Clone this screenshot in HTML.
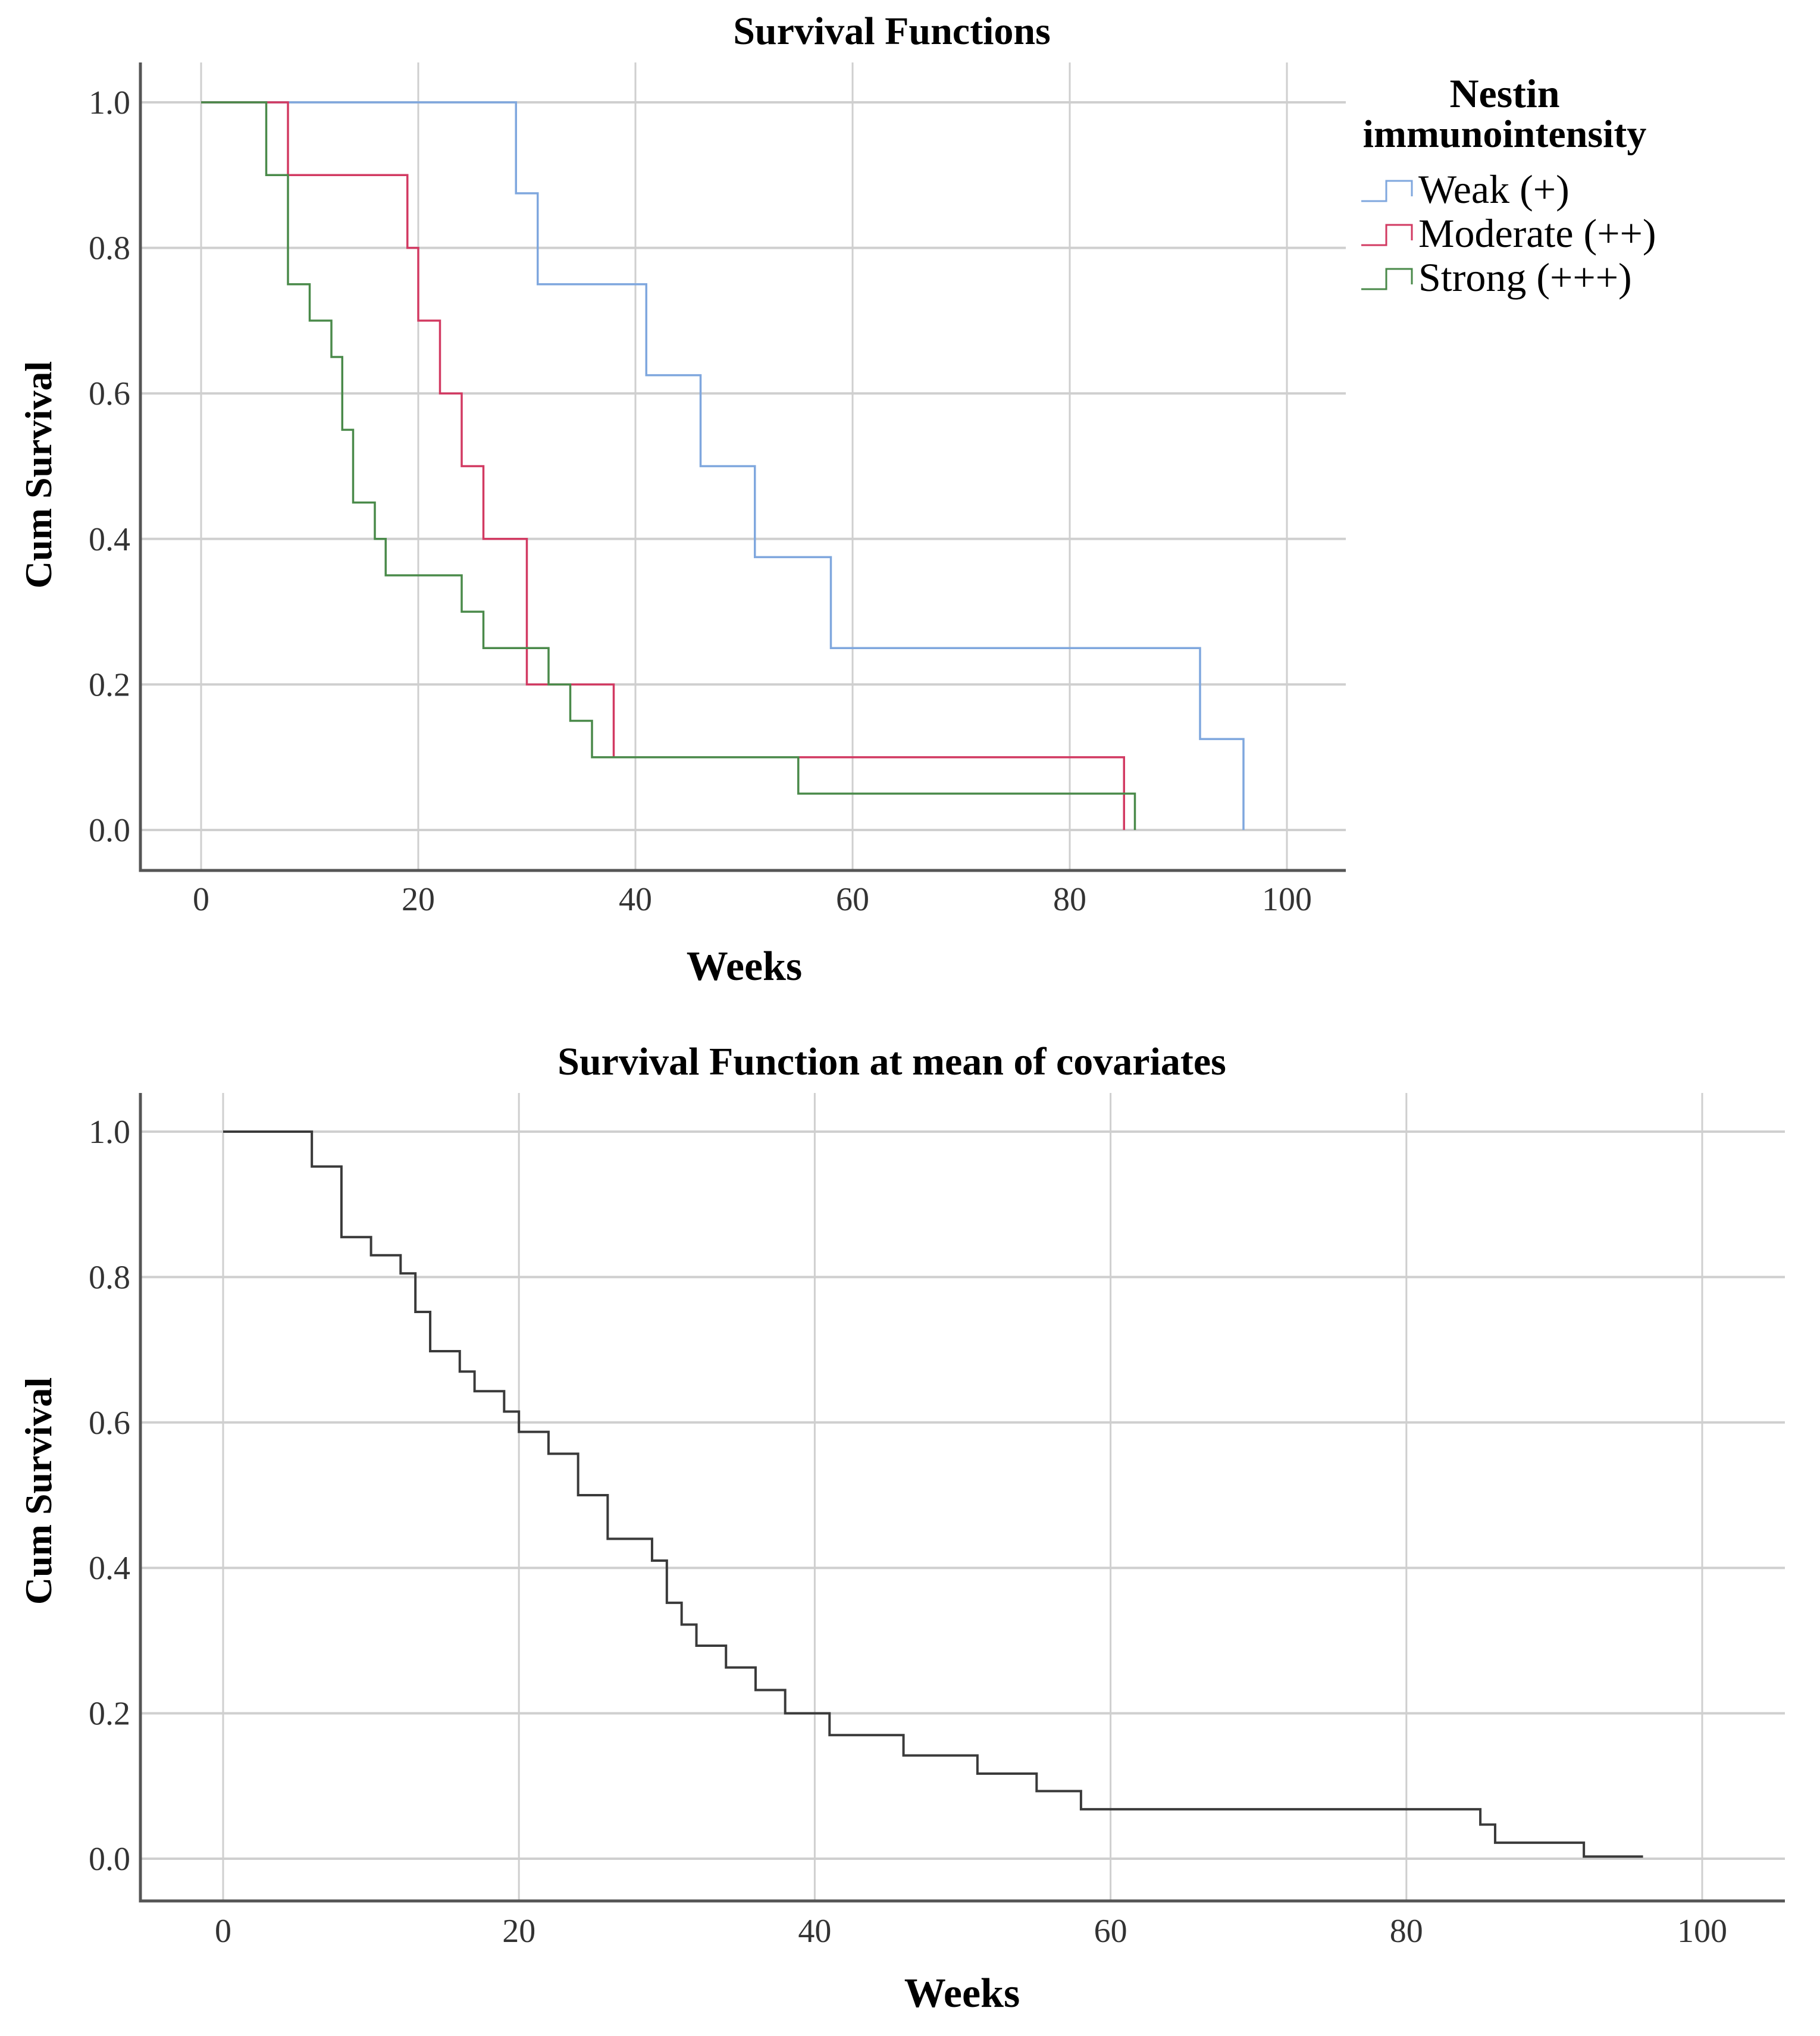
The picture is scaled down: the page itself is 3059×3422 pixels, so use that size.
<!DOCTYPE html>
<html><head><meta charset="utf-8"><style>
html,body{margin:0;padding:0;background:#fff}
svg{display:block}
text{font-family:"Liberation Serif",serif}
</style></head><body>
<svg id="svg" width="3059" height="3422" viewBox="0 0 3059 3422">
<text x="1499" y="74" font-size="66" font-weight="bold" text-anchor="middle">Survival Functions</text>
<text x="1499" y="1806" font-size="66" font-weight="bold" text-anchor="middle">Survival Function at mean of covariates</text>
<text transform="translate(86,798) rotate(-90)" font-size="64" font-weight="bold" text-anchor="middle">Cum Survival</text>
<text transform="translate(86,2506) rotate(-90)" font-size="64" font-weight="bold" text-anchor="middle">Cum Survival</text>
<text x="1251" y="1647" font-size="70" font-weight="bold" text-anchor="middle">Weeks</text>
<text x="1617" y="3373" font-size="70" font-weight="bold" text-anchor="middle">Weeks</text>
<g>
<text x="2529" y="180" font-size="68" font-weight="bold" text-anchor="middle">Nestin</text>
<text x="2529" y="247" font-size="66" font-weight="bold" text-anchor="middle">immunointensity</text>
<g><path d="M2288,338 H2330 V304 H2373 V330" fill="none" stroke="#7fa7de" stroke-width="3"/><text x="2384" y="341" font-size="68">Weak (+)</text></g>
<g><path d="M2288,412 H2330 V378 H2373 V404" fill="none" stroke="#d23a62" stroke-width="3"/><text x="2384" y="415" font-size="68">Moderate (++)</text></g>
<g><path d="M2288,486 H2330 V452 H2373 V478" fill="none" stroke="#4a8a4a" stroke-width="3"/><text x="2384" y="489" font-size="68">Strong (+++)</text></g>
</g>
</svg>
<script>
const xTicks=[0,20,40,60,80,100];
const yTicks=[0,0.2,0.4,0.6,0.8,1.0];
const yTickLabels=["0.0","0.2","0.4","0.6","0.8","1.0"];
const weakTimes=[0,29,31,41,46,51,58,92,96];
const weakSurv=[1,0.875,0.75,0.625,0.5,0.375,0.25,0.125,0];
const modTimes=[0,8,19,20,22,24,26,30,38,85];
const modSurv=[1,0.9,0.8,0.7,0.6,0.5,0.4,0.2,0.1,0];
const strongTimes=[0,6,8,10,12,13,14,16,17,24,26,32,34,36,55,86];
const strongSurv=[1,0.9,0.75,0.7,0.65,0.55,0.45,0.4,0.35,0.3,0.25,0.2,0.15,0.1,0.05,0];
const meanTimes=[0,6,8,10,12,13,14,16,17,19,20,22,24,26,29,30,31,32,34,36,38,41,46,51,55,58,85,86,92];
const meanSurv=[1,0.952,0.855,0.83,0.805,0.752,0.698,0.67,0.643,0.615,0.587,0.557,0.5,0.44,0.41,0.352,0.322,0.293,0.263,0.232,0.2,0.17,0.142,0.117,0.093,0.068,0.047,0.022,0.003];
const meanEnd=96;
const NS="http://www.w3.org/2000/svg";
const svgEl=document.getElementById('svg');
function mk(tag,attrs){const e=document.createElementNS(NS,tag);for(const k in attrs)e.setAttribute(k,attrs[k]);svgEl.appendChild(e);return e;}
function chart(p,prefix){
 const X=v=>p.x0+(p.x1-p.x0)*v/100, Y=v=>p.y0+(p.y1-p.y0)*v;
 xTicks.forEach(t=>{const l=mk('line',{x1:X(t),x2:X(t),y1:p.top,y2:p.bottom,stroke:'#cfcfcf','stroke-width':3});
  
  
  const tx=mk('text',{x:X(t),y:p.xlab,'font-size':56,'text-anchor':'middle',fill:'#333'});tx.textContent=t;
  
  });
 yTicks.forEach((t,i)=>{const l=mk('line',{x1:p.left,x2:p.right,y1:Y(t),y2:Y(t),stroke:'#cfcfcf','stroke-width':4});
  
  
  const tx=mk('text',{x:219,y:Y(t)+19,'font-size':56,'text-anchor':'end',fill:'#333'});tx.textContent=yTickLabels[i];
  
  });
 const ax=mk('path',{d:`M${p.left},${p.top} V${p.bottom} H${p.right}`,fill:'none',stroke:'#555','stroke-width':5});
 
 
 return {X,Y};
}
function step(s,times,surv,end,color,w,name){
 let d=`M${s.X(times[0])},${s.Y(surv[0])}`;
 for(let i=1;i<times.length;i++){d+=` H${s.X(times[i])} V${s.Y(surv[i])}`;}
 if(end!=null)d+=` H${s.X(end)}`;
 const e=mk('path',{d,fill:'none',stroke:color,'stroke-width':w});
 
 
}
const topChart=chart({x0:338,x1:2163,y0:1395,y1:172,left:236,right:2262,top:105,bottom:1463,xlab:1530},'top');
step(topChart,weakTimes,weakSurv,null,'#7fa7de',3.5,'weak-curve');
step(topChart,modTimes,modSurv,null,'#d23a62',3.5,'moderate-curve');
step(topChart,strongTimes,strongSurv,null,'#4a8a4a',3.5,'strong-curve');
const botChart=chart({x0:375,x1:2861,y0:3124,y1:1902,left:236,right:3000,top:1837,bottom:3195,xlab:3264},'bottom');
step(botChart,meanTimes,meanSurv,meanEnd,'#3a3a3a',4,'mean-survival-curve');
</script>
</body></html>
